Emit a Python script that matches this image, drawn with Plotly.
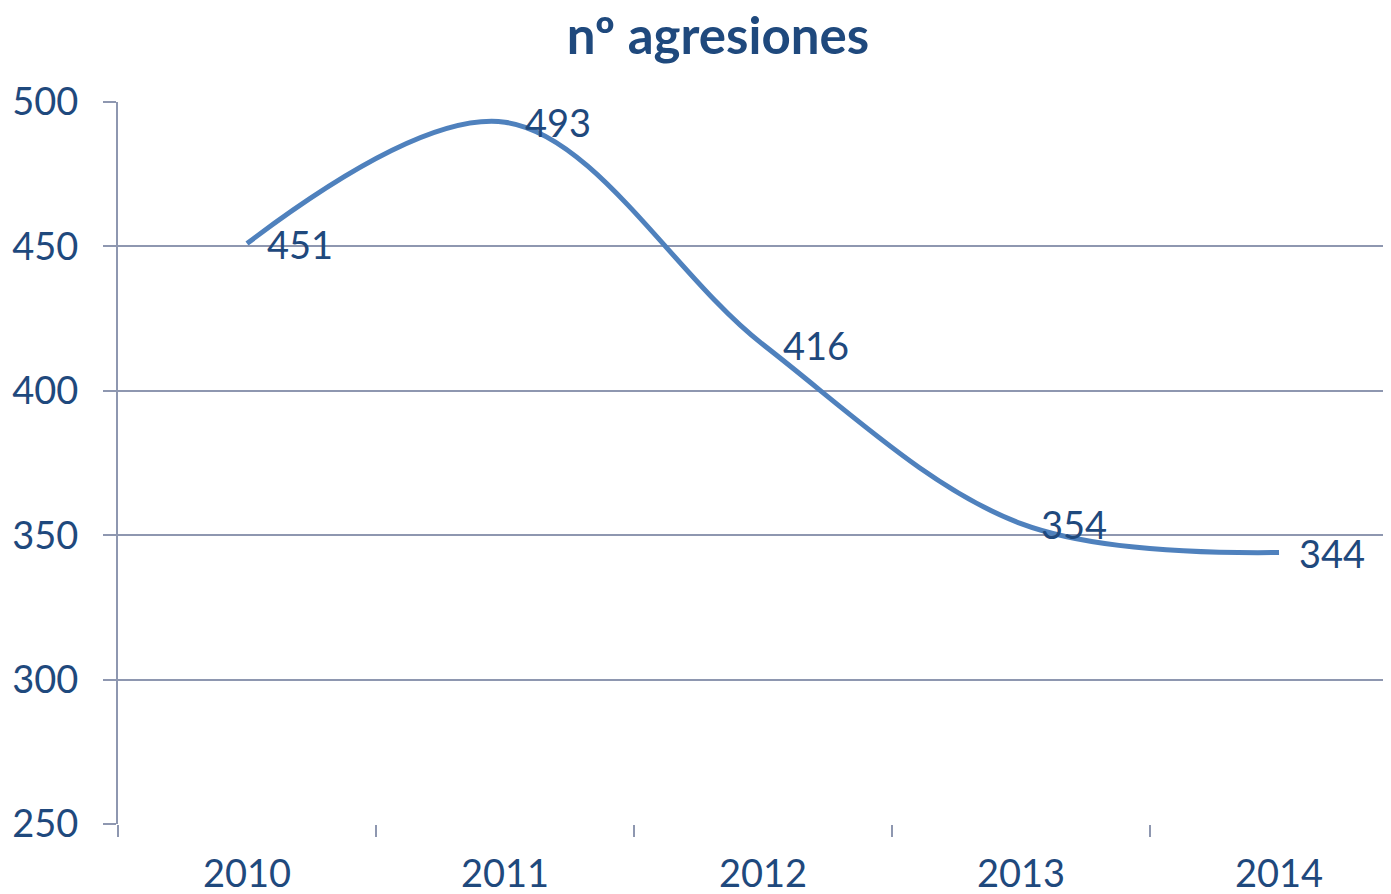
import plotly.graph_objects as go

years = ["2010", "2011", "2012", "2013", "2014"]
agresiones = [451, 493, 416, 354, 344]

DARK = "#1F497D"
LINE = "#4F81BD"
GRID = "#8E97B0"
FONT = "Lato"

fig = go.Figure()

fig.add_trace(go.Scatter(
    x=years,
    y=agresiones,
    mode="lines",
    line=dict(color=LINE, width=5, shape="spline", smoothing=1),
    showlegend=False,
))

# value labels, pushed a bit to the right of each point
# (category index used so "2010" isn't read as a number)
for i, v in enumerate(agresiones):
    fig.add_annotation(
        x=i, y=v, text=str(v),
        showarrow=False,
        xanchor="left", yanchor="middle",
        xshift=18,
        font=dict(family=FONT, size=38, color=DARK),
    )

fig.update_layout(
    title=dict(
        text="<b>nº agresiones</b>",
        x=0.5104, xanchor="center",
        y=0.968, yanchor="middle",
        font=dict(family=FONT, size=51, color=DARK),
    ),
    width=1391,
    height=894,
    margin=dict(l=110, r=0, t=94, b=78),
    paper_bgcolor="white",
    plot_bgcolor="white",
    xaxis=dict(
        type="category",
        range=[-0.5, 4.465],
        tickson="boundaries",
        ticks="outside",
        ticklen=12,
        tickwidth=2,
        tickcolor=GRID,
        showgrid=False,
        showline=False,
        tickfont=dict(family=FONT, size=38, color=DARK),
        ticklabelstandoff=24,
    ),
    yaxis=dict(
        range=[250, 500],
        dtick=50,
        ticks="outside",
        ticklen=13,
        tickwidth=2,
        tickcolor=GRID,
        gridcolor=GRID,
        gridwidth=2,
        showline=True,
        linecolor=GRID,
        linewidth=2,
        zeroline=False,
        tickfont=dict(family=FONT, size=38, color=DARK),
        ticklabelstandoff=17,
    ),
)

fig.write_html("out.html")
